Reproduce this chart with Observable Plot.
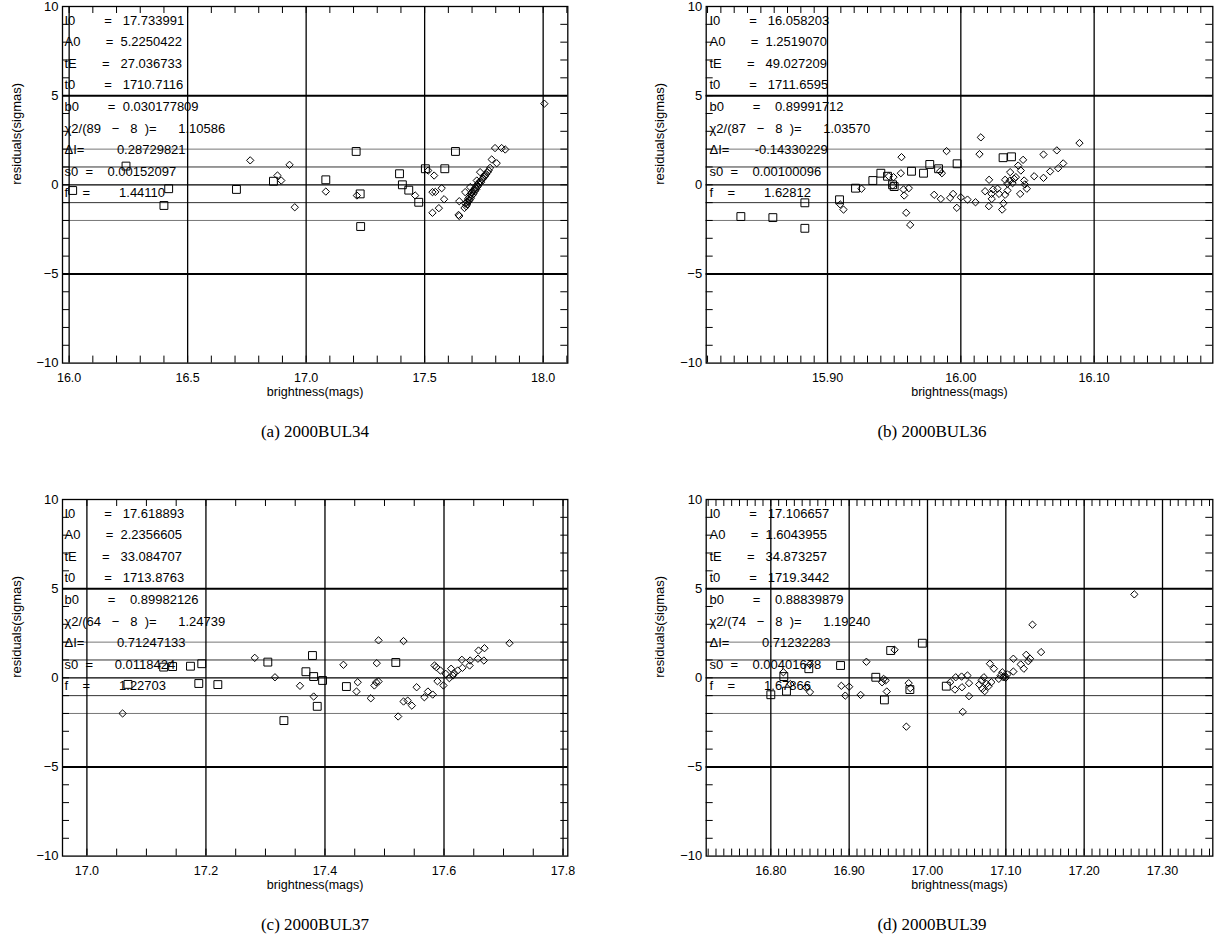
<!DOCTYPE html>
<html><head><meta charset="utf-8">
<script src="https://cdn.jsdelivr.net/npm/d3@7"></script>
<script src="https://cdn.jsdelivr.net/npm/@observablehq/plot@0.6"></script>
<style>
html,body{margin:0;padding:0;background:#fff;}
#fig{position:relative;width:1215px;height:941px;overflow:hidden;background:#fff;}
.panel{position:absolute;}
.cap{position:absolute;font-family:"Liberation Serif",serif;font-size:17px;white-space:nowrap;transform:translateX(-50%);color:#000;}
</style></head><body><div id="fig"></div>
<script>
// ---------- shared axis values ----------
const yTicks = [10, 5, 0, -5, -10];
const yMinor = d3.range(-9, 10);
const yDomain = [-10, 10];

// ---------- panel (a) 2000BUL34 ----------
const aXDomain = [15.972, 18.104];
const aXTicks = [16.0, 16.5, 17.0, 17.5, 18.0];
const aMinorStep = 0.1;
const aSquares = [[16.015,-0.32],[16.24,1.05],[16.42,-0.22],[16.40,-1.16],[16.706,-0.26],[16.862,0.20],
  [17.083,0.28],[17.211,1.87],[17.228,-0.51],[17.23,-2.34],[17.394,0.62],[17.406,0.00],[17.433,-0.30],
  [17.475,-0.98],[17.503,0.90],[17.585,0.90],[17.63,1.87]];
const aDiamonds = [[16.764,1.37],[16.93,1.12],[16.879,0.52],[16.895,0.24],[16.952,-1.26],[17.083,-0.38],
  [17.214,-0.60],[17.46,-0.60],[17.515,0.80],[17.54,0.52],[17.533,-0.41],[17.545,-0.40],[17.572,-0.19],
  [17.582,-0.81],[17.56,-1.31],[17.533,-1.57],[17.646,-0.92],[17.643,-1.69],[17.646,-1.75],[17.783,1.42],
  [17.804,1.21],[17.797,2.06],[17.825,2.06],[17.84,1.98],[18.005,4.55],
  [17.668,-1.30],[17.672,-1.05],[17.675,-1.20],[17.678,-0.95],[17.680,-1.10],[17.683,-0.80],[17.685,-0.95],
  [17.688,-0.70],[17.690,-0.85],[17.693,-0.55],[17.695,-0.75],[17.698,-0.45],[17.700,-0.60],[17.703,-0.35],
  [17.706,-0.50],[17.709,-0.25],[17.712,-0.35],[17.715,-0.15],[17.718,-0.25],[17.721,0.00],[17.724,-0.10],
  [17.727,0.10],[17.730,0.05],[17.734,0.20],[17.738,0.15],[17.742,0.30],[17.746,0.35],[17.750,0.45],
  [17.755,0.50],[17.760,0.60],[17.765,0.70],[17.770,0.80],[17.776,0.95],[17.671,-0.41],[17.692,-0.13],
  [17.720,0.24],[17.734,0.71]];
const aLines = ["I0        =   17.733991","A0       =  5.2250422","tE       =   27.036733","t0        =   1710.7116",
  "b0        =  0.030177809","χ2/(89   −   8  )=      1.10586","ΔI=         0.28729821","s0  =    0.00152097","f    =        1.44110"];

// ---------- panel (b) 2000BUL36 ----------
const bXDomain = [15.809, 16.189];
const bXTicks = [15.90, 16.00, 16.10];
const bMinorStep = 0.01;
const bSquares = [[15.883,-1.01],[15.835,-1.78],[15.859,-1.84],[15.883,-2.44],[15.909,-0.84],[15.921,-0.19],
  [15.934,0.24],[15.94,0.65],[15.945,0.48],[15.9488,0.00],[15.95,-0.10],[15.963,0.76],[15.972,0.65],
  [15.9767,1.14],[15.9833,0.90],[15.9972,1.18],[16.0317,1.52],[16.038,1.57]];
const bDiamonds = [[15.9095,-1.10],[15.912,-1.39],[15.9255,-0.22],[15.9495,0.43],[15.946,0.48],[15.955,0.65],
  [15.9555,1.55],[15.957,-0.26],[15.9575,-0.60],[15.959,-1.57],[15.962,-2.25],[15.9488,-0.04],[15.961,-0.19],
  [15.98,-0.56],[15.985,-0.79],[15.9858,0.65],[15.9845,0.76],[15.9893,1.89],[15.992,-0.73],[15.9942,-0.51],
  [15.997,-1.29],[16.0,-0.70],[16.005,-0.83],[16.011,-0.98],[16.015,2.66],[16.014,1.72],[16.0182,-0.36],
  [16.0212,0.28],[16.021,-1.20],[16.023,-0.51],[16.0242,-0.26],[16.0232,-0.79],[16.0275,-0.22],[16.0287,-0.51],
  [16.031,-1.39],[16.032,-1.03],[16.0332,-0.56],[16.0332,0.28],[16.035,-0.32],[16.037,0.71],[16.0368,0.24],
  [16.035,0.06],[16.0388,0.09],[16.04,0.34],[16.043,1.08],[16.0413,0.43],[16.045,0.80],[16.0467,1.40],
  [16.0445,-0.51],[16.0475,0.24],[16.048,0.02],[16.0495,-0.22],[16.055,0.48],[16.062,1.70],[16.062,0.39],
  [16.067,0.75],[16.072,1.93],[16.073,0.93],[16.0768,1.20],[16.089,2.34]];
const bLines = ["I0        =   16.058203","A0       =  1.2519070","tE       =   49.027209","t0        =   1711.6595",
  "b0        =    0.89991712","χ2/(87   −   8  )=      1.03570","ΔI=       -0.14330229","s0  =    0.00100096","f    =        1.62812"];

// ---------- panel (c) 2000BUL37 ----------
const cXDomain = [16.959, 17.808];
const cXTicks = [17.0, 17.2, 17.4, 17.6, 17.8];
const cMinorStep = 0.05;
const cSquares = [[17.069,-0.37],[17.129,0.60],[17.144,0.63],[17.174,0.65],[17.193,0.79],[17.188,-0.32],
  [17.22,-0.38],[17.304,0.88],[17.331,-2.40],[17.368,0.34],[17.379,1.25],[17.381,0.07],[17.387,-1.60],
  [17.396,-0.15],[17.436,-0.49],[17.519,0.86]];
const cDiamonds = [[17.06,-2.00],[17.282,1.12],[17.316,0.03],[17.358,-0.45],[17.381,-1.05],[17.431,0.73],
  [17.455,-0.25],[17.453,-0.77],[17.477,-1.15],[17.483,-0.43],[17.486,-0.25],[17.49,-0.21],[17.487,0.82],
  [17.49,2.10],[17.532,2.06],[17.523,-2.17],[17.532,-1.33],[17.539,-1.28],[17.546,-1.56],[17.554,-0.53],
  [17.567,-1.09],[17.573,-0.77],[17.581,-0.94],[17.584,0.69],[17.587,0.60],[17.589,-0.19],[17.594,0.41],
  [17.599,-0.43],[17.603,0.22],[17.609,-0.02],[17.612,0.51],[17.615,0.13],[17.617,0.26],[17.623,0.41],
  [17.631,0.56],[17.63,1.01],[17.643,0.69],[17.644,0.97],[17.657,1.07],[17.658,1.53],[17.668,1.66],
  [17.667,0.97],[17.71,1.94]];
const cLines = ["I0        =   17.618893","A0       =  2.2356605","tE       =   33.084707","t0        =   1713.8763",
  "b0        =    0.89982126","χ2/(64   −   8  )=      1.24739","ΔI=         0.71247133","s0  =      0.0118424","f    =        1.22703"];

// ---------- panel (d) 2000BUL39 ----------
const dXDomain = [16.7175, 17.3642];
const dXTicks = [16.80, 16.90, 17.00, 17.10, 17.20, 17.30];
const dMinorStep = 0.01;
const dSquares = [[16.80,-0.95],[16.8166,0.07],[16.8485,0.51],[16.889,0.69],[16.953,1.53],[16.934,0.03],
  [16.945,-1.24],[16.9775,-0.66],[16.9934,1.94],[17.024,-0.47],[16.82,-0.75]];
const dDiamonds = [[16.816,0.31],[16.85,0.75],[16.922,0.90],[16.958,1.57],[16.944,-0.06],[16.9146,-0.96],
  [16.942,-0.25],[16.9465,-0.15],[16.948,-0.77],[16.976,-0.30],[16.978,-0.58],[16.973,-2.74],[17.029,-0.25],
  [17.035,-0.66],[17.036,0.03],[17.0435,0.07],[17.044,-0.53],[17.051,0.13],[17.053,-0.30],[17.053,-1.03],
  [17.045,-1.91],[17.066,-0.38],[17.069,-0.15],[17.07,-0.62],[17.072,0.03],[17.073,-0.75],[17.0755,-0.34],
  [17.078,-0.47],[17.0797,0.79],[17.0815,-0.25],[17.0848,0.51],[17.091,-0.06],[17.0934,0.13],[17.0955,0.31],
  [17.0968,0.03],[17.0985,0.13],[17.0997,0.00],[17.102,0.19],[17.1096,1.07],[17.1096,0.35],[17.119,0.75],
  [17.123,0.51],[17.126,1.29],[17.1287,0.93],[17.131,1.07],[17.134,2.98],[17.145,1.44],[17.264,4.68],
  [16.825,-0.35],[16.845,-0.55],[16.85,-0.80],[16.89,-0.45],[16.895,-1.00],[16.90,-0.50]];
const dLines = ["I0        =   17.106657","A0       =  1.6043955","tE       =   34.873257","t0        =   1719.3442",
  "b0        =    0.88839879","χ2/(74   −   8  )=      1.19240","ΔI=         0.71232283","s0  =    0.00401678","f    =        1.67866"];

// ---------- layout ----------
const panels = [
  {left:0,   top:0,   axisL:62,    axisR:567.3,  xDomain:aXDomain, xTicks:aXTicks, step:aMinorStep, fmt:".1f", squares:aSquares, diamonds:aDiamonds, lines:aLines, caption:"(a) 2000BUL34", capX:315, capY:422, textDx:2},
  {left:608, top:0,   axisL:705.7, axisR:1212.3, xDomain:bXDomain, xTicks:bXTicks, step:bMinorStep, fmt:".2f", squares:bSquares, diamonds:bDiamonds, lines:bLines, caption:"(b) 2000BUL36", capX:932, capY:422, textDx:3.3},
  {left:0,   top:493, axisL:62,    axisR:567.3,  xDomain:cXDomain, xTicks:cXTicks, step:cMinorStep, fmt:".1f", squares:cSquares, diamonds:cDiamonds, lines:cLines, caption:"(c) 2000BUL37", capX:315, capY:915, textDx:2},
  {left:608, top:493, axisL:705.7, axisR:1212.3, xDomain:dXDomain, xTicks:dXTicks, step:dMinorStep, fmt:".2f", squares:dSquares, diamonds:dDiamonds, lines:dLines, caption:"(d) 2000BUL39", capX:932, capY:915, textDx:3.3}
];

function minorTicks(domain, step) {
  const k = Math.round(1 / step);
  const i0 = Math.ceil(domain[0] * k - 1e-6), i1 = Math.floor(domain[1] * k + 1e-6);
  return d3.range(i0, i1 + 1).map(i => i / k);
}

const fig = document.getElementById("fig");
for (const p of panels) {
  const W = 607, H = 403, mt = 6, mb = H - 362.6;
  const ml = p.axisL - p.left, mr = W - (p.axisR - p.left);
  const fw = W - ml - mr, fh = H - mt - mb;
  const [x0, x1] = p.xDomain;
  const lenX = 7 * (x1 - x0) / fw, lenY = 7 * (yDomain[1] - yDomain[0]) / fh;
  const minor = minorTicks(p.xDomain, p.step);
  const svg = Plot.plot({
    width: W, height: H, marginTop: mt, marginBottom: mb, marginLeft: ml, marginRight: mr,
    x: {domain: p.xDomain}, y: {domain: yDomain},
    style: {fontFamily: "'Liberation Sans', Arial, sans-serif", fontSize: "13px", color: "#000", background: "transparent", overflow: "visible"},
    marks: [
      Plot.ruleY([2, -2], {stroke: "#777", strokeWidth: 1}),
      Plot.ruleY([1, -1], {stroke: "#333", strokeWidth: 1}),
      Plot.ruleY([0], {stroke: "#000", strokeWidth: 1.2}),
      Plot.ruleY([5, -5], {stroke: "#000", strokeWidth: 2}),
      Plot.ruleX(p.xTicks, {stroke: "#000", strokeWidth: 1.3}),
      Plot.ruleX(minor, {y1: yDomain[0], y2: yDomain[0] + lenY, stroke: "#000", strokeWidth: 1}),
      Plot.ruleX(minor, {y1: yDomain[1] - lenY, y2: yDomain[1], stroke: "#000", strokeWidth: 1}),
      Plot.ruleY(yMinor, {x1: x0, x2: x0 + lenX, stroke: "#000", strokeWidth: 1}),
      Plot.ruleY(yMinor, {x1: x1 - lenX, x2: x1, stroke: "#000", strokeWidth: 1}),
      Plot.frame({stroke: "#000", strokeWidth: 1.3}),
      Plot.axisX({ticks: p.xTicks, tickSize: 0, tickPadding: 10, tickFormat: d3.format(p.fmt), fontSize: 12.5, label: null}),
      Plot.axisY({ticks: yTicks, tickSize: 0, tickPadding: 4, tickFormat: d3.format("d"), fontSize: 13, label: null}),
      Plot.dot(p.squares, {x: d => d[0], y: d => d[1], symbol: "square2", r: 5, stroke: "#000", strokeWidth: 1, fill: "none"}),
      Plot.dot(p.diamonds, {x: d => d[0], y: d => d[1], symbol: "diamond2", r: 3.3, stroke: "#000", strokeWidth: 1, fill: "none"}),
      Plot.text([p.lines.join("\n").replace(/ /g, "\u00a0")], {frameAnchor: "top-left", textAnchor: "start", lineAnchor: "top", dx: p.textDx, dy: 2.9, lineHeight: 1.66, fontSize: 13, fill: "#000"}),
      Plot.text(["residuals(sigmas)"], {frameAnchor: "left", rotate: -90, dx: -46, fontSize: 13, fill: "#000"}),
      Plot.text(["brightness(mags)"], {frameAnchor: "bottom", dy: 32.5, fontSize: 12.5, fill: "#000"})
    ]
  });
  const div = document.createElement("div");
  div.className = "panel";
  div.style.left = p.left + "px";
  div.style.top = p.top + "px";
  div.appendChild(svg);
  fig.appendChild(div);
  const cap = document.createElement("div");
  cap.className = "cap";
  cap.style.left = p.capX + "px";
  cap.style.top = p.capY + "px";
  cap.textContent = p.caption;
  fig.appendChild(cap);
}
</script></body></html>
